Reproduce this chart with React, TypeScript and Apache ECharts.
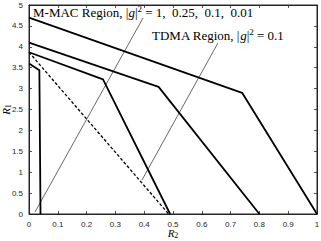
import React, { useEffect, useRef } from "react";
import * as echarts from "echarts";

const xTicks = [0, 0.1, 0.2, 0.3, 0.4, 0.5, 0.6, 0.7, 0.8, 0.9, 1];
const yTicks = [0, 0.5, 1, 1.5, 2, 2.5, 3, 3.5, 4, 4.5, 5];

// M-MAC regions (R2, R1)
const r2G1 = [0, 0.74, 1];
const r1G1 = [4.7, 2.9, 0];
const r2G025 = [0, 0.45, 0.8];
const r1G025 = [4.1, 3.04, 0];
const r2G01 = [0, 0.257, 0.49];
const r1G01 = [3.87, 3.22, 0];
const r2G001 = [0, 0.036, 0.04];
const r1G001 = [3.6, 3.44, 0];
// TDMA region, |g|^2 = 0.1
const r2Tdma = [0, 0.485];
const r1Tdma = [3.87, 0];

// annotation arrows [x1, y1, x2, y2]
const arrowMmac = [0.396, 4.69, 0.021, 0.05];
const arrowTdma = [0.656, 4.09, 0.392, 0.81];

const pairs = (xs: number[], ys: number[]) => xs.map((x, i) => [x, ys[i]]);

export default function App() {
  const ref = useRef<HTMLDivElement>(null);
  useEffect(() => {
    if (!ref.current) return;
    const chart = echarts.init(ref.current, null, { renderer: "svg" });
    const tickColor = "#262626";
    const axisCommon = {
      axisLine: { show: true, onZero: false, lineStyle: { color: tickColor, width: 1 } },
      axisTick: { show: true, inside: true, length: 3, lineStyle: { color: tickColor, width: 0.8 } },
      splitLine: { show: false },
    };
    const lineSeries = (xs: number[], ys: number[], extra: any = {}) => ({
      type: "line",
      data: pairs(xs, ys),
      symbol: "none",
      lineStyle: { color: "#000", width: 1.8, ...(extra.lineStyle || {}) },
      z: 3,
    });
    const arrow = (a: number[]) => ({
      type: "line",
      data: [],
      markLine: {
        silent: true,
        symbol: ["none", "arrow"],
        symbolSize: [0, 7],
        label: { show: false },
        lineStyle: { color: "#000", width: 0.6, type: "solid" },
        data: [[{ coord: [a[0], a[1]] }, { coord: [a[2], a[3]] }]],
      },
    });
    const richText = {
      a: { fontFamily: "Liberation Serif", fontSize: 13, fill: "#000" },
      i: { fontFamily: "Liberation Serif", fontStyle: "italic", fontSize: 13, fill: "#000" },
      p: { fontFamily: "Liberation Serif", fontSize: 9, fill: "#000", padding: [0, 0, 7, 0] },
    };
    const nameRich = {
      i: { fontFamily: "Liberation Serif", fontStyle: "italic", fontSize: 11, color: "#000", lineHeight: 12 },
      s: { fontFamily: "Liberation Serif", fontSize: 8, color: "#000", lineHeight: 12, padding: [4, 0, 0, 0] },
    };
    chart.setOption({
      animation: false,
      grid: {
        left: 29,
        right: 4,
        top: 5,
        bottom: 27,
        containLabel: false,
        outerBoundsMode: "none",
        show: true,
        borderColor: tickColor,
        borderWidth: 1,
      },
      xAxis: [
        {
          type: "value",
          min: 0,
          max: 1,
          interval: 0.1,
          ...axisCommon,
          axisLabel: {
            color: tickColor,
            fontSize: 8,
            fontFamily: "Liberation Sans",
            margin: 6,
            formatter: (v: number) => (xTicks.includes(Math.round(v * 10) / 10) ? String(Math.round(v * 10) / 10) : ""),
          },
          name: "{i|R}{s|2}",
          nameLocation: "middle",
          nameMoveOverlap: false,
          nameGap: 13,
          nameTextStyle: { rich: nameRich },
        },
        {
          type: "value",
          position: "top",
          min: 0,
          max: 1,
          interval: 0.1,
          ...axisCommon,
          axisLabel: { show: false },
        },
      ],
      yAxis: [
        {
          type: "value",
          min: 0,
          max: 5,
          interval: 0.5,
          ...axisCommon,
          axisLabel: {
            color: tickColor,
            fontSize: 8,
            fontFamily: "Liberation Sans",
            margin: 6,
            showMaxLabel: true,
            formatter: (v: number) => (yTicks.includes(v) ? String(v) : ""),
          },
          name: "{i|R}{s|1}",
          nameLocation: "middle",
          nameMoveOverlap: false,
          nameGap: 17,
          nameTextStyle: { rich: nameRich },
        },
        {
          type: "value",
          position: "right",
          min: 0,
          max: 5,
          interval: 0.5,
          ...axisCommon,
          axisLabel: { show: false },
        },
      ],
      series: [
        lineSeries(r2G1, r1G1),
        lineSeries(r2G025, r1G025),
        lineSeries(r2G01, r1G01),
        lineSeries(r2G001, r1G001),
        lineSeries(r2Tdma, r1Tdma, { lineStyle: { type: [3, 2], width: 1.3 } }),
        arrow(arrowMmac),
        arrow(arrowTdma),
      ],
      graphic: [
        {
          type: "text",
          x: 33,
          y: 4,
          z: 10,
          style: {
            text: "{a|M-MAC Region, |}{i|g}{a||}{p|2}{a| = 1,  0.25,  0.1,  0.01}",
            rich: richText,
          },
        },
        {
          type: "text",
          x: 152,
          y: 27,
          z: 10,
          style: {
            text: "{a|TDMA Region, |}{i|g}{a||}{p|2}{a| = 0.1}",
            rich: richText,
          },
        },
      ],
    });
    return () => chart.dispose();
  }, []);
  return <div ref={ref} style={{ width: 321, height: 241, position: "absolute", left: 0, top: 0 }} />;
}
